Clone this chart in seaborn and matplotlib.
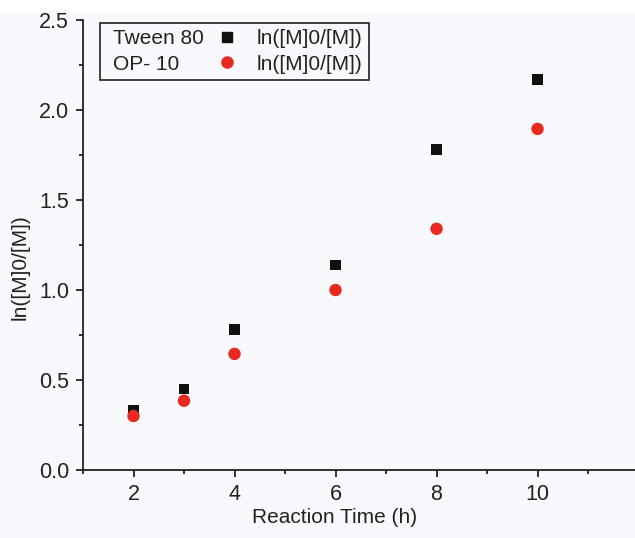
import numpy as np
import pandas as pd
import matplotlib
matplotlib.use("Agg")
import matplotlib.pyplot as plt
from matplotlib.lines import Line2D
from matplotlib.patches import Rectangle
from matplotlib.ticker import MultipleLocator, FormatStrFormatter
from matplotlib.legend_handler import HandlerLine2D
import seaborn as sns

# data
times = [2, 3, 4, 6, 8, 10]
tween80 = [0.33, 0.45, 0.78, 1.14, 1.78, 2.17]
op10 = [0.30, 0.385, 0.645, 1.00, 1.34, 1.895]
series_names = ["Tween 80", "OP- 10"]
y_label = "ln([M]0/[M])"
x_label = "Reaction Time (h)"

bg = "#f8f9fc"
ink = "#222222"
colors = {"Tween 80": "#111111", "OP- 10": "#e8291f"}
markers = {"Tween 80": "s", "OP- 10": "o"}
sizes = {"Tween 80": 55, "OP- 10": 80}


class ShiftedMarker(HandlerLine2D):
    """marker drawn left of its handle box, so the name can sit before it"""

    def __init__(self, shift, **kw):
        super().__init__(**kw)
        self.shift = shift

    def create_artists(self, legend, orig_handle, xdescent, ydescent, width, height, fontsize, trans):
        artists = super().create_artists(legend, orig_handle, xdescent, ydescent,
                                         width, height, fontsize, trans)
        for a in artists:
            a.set_xdata(np.asarray(a.get_xdata()) + self.shift * fontsize)
        return artists


df = pd.concat([
    pd.DataFrame({"time": times, "value": tween80, "series": series_names[0]}),
    pd.DataFrame({"time": times, "value": op10, "series": series_names[1]}),
])

sns.set_style("ticks")
plt.rcParams["font.family"] = ["Liberation Sans", "DejaVu Sans"]

fig = plt.figure(figsize=(6.35, 5.38), dpi=100, facecolor=bg)
fig.add_artist(Rectangle((0, 1 - 12 / 538), 1, 12 / 538, transform=fig.transFigure,
                         facecolor="white", edgecolor="none", zorder=-1))
ax = fig.add_axes([83 / 635, 68 / 538, 552 / 635, 450 / 538], facecolor=bg)

for name in series_names:
    sub = df[df["series"] == name]
    sns.scatterplot(data=sub, x="time", y="value", ax=ax, color=colors[name],
                    marker=markers[name], s=sizes[name], edgecolor="none",
                    legend=False, zorder=3)

ax.set_xlim(1, 11.93)
ax.set_ylim(0, 2.5)
ax.xaxis.set_major_locator(MultipleLocator(2))
ax.xaxis.set_minor_locator(MultipleLocator(1))
ax.yaxis.set_major_locator(MultipleLocator(0.5))
ax.yaxis.set_minor_locator(MultipleLocator(0.25))
ax.yaxis.set_major_formatter(FormatStrFormatter("%.1f"))

for side in ["top", "right"]:
    ax.spines[side].set_visible(False)
for side in ["left", "bottom"]:
    ax.spines[side].set_linewidth(1.3)
    ax.spines[side].set_color(ink)

ax.tick_params(which="major", direction="out", length=5, width=1.3,
               labelsize=15.5, color=ink, labelcolor=ink, pad=5)
ax.tick_params(which="minor", direction="out", length=3, width=1.3, color=ink)

ax.set_xlabel(x_label, fontsize=15, color=ink)
ax.set_ylabel(y_label, fontsize=15, color=ink)
ax.xaxis.set_label_coords(0.455, -0.085)
ax.yaxis.set_label_coords(-0.097, 0.45)

# legend laid out as: name | marker | quantity
blank = Line2D([], [], linestyle="none", marker="none")
handles = [blank, blank]
labels = list(series_names)
hmap = {}
for name in series_names:
    h = Line2D([], [], linestyle="none", marker=markers[name], color=colors[name],
               markersize=7 if name == "Tween 80" else 8)
    handles.append(h)
    labels.append(y_label)
    hmap[h] = ShiftedMarker(-1.1)
leg = fig.legend(handles, labels, ncol=2, loc="upper left", handler_map=hmap,
                 bbox_to_anchor=(100 / 635, 1 - 23 / 538), fontsize=15,
                 frameon=True, fancybox=False, framealpha=1, facecolor=bg,
                 edgecolor=ink, handlelength=0.0, handletextpad=0.34,
                 columnspacing=2.2, borderpad=0.3, labelspacing=0.3,
                 borderaxespad=0)
leg.get_frame().set_linewidth(1.2)
for t in leg.get_texts():
    t.set_color(ink)

fig.savefig("out.png", dpi=100, facecolor=bg)
